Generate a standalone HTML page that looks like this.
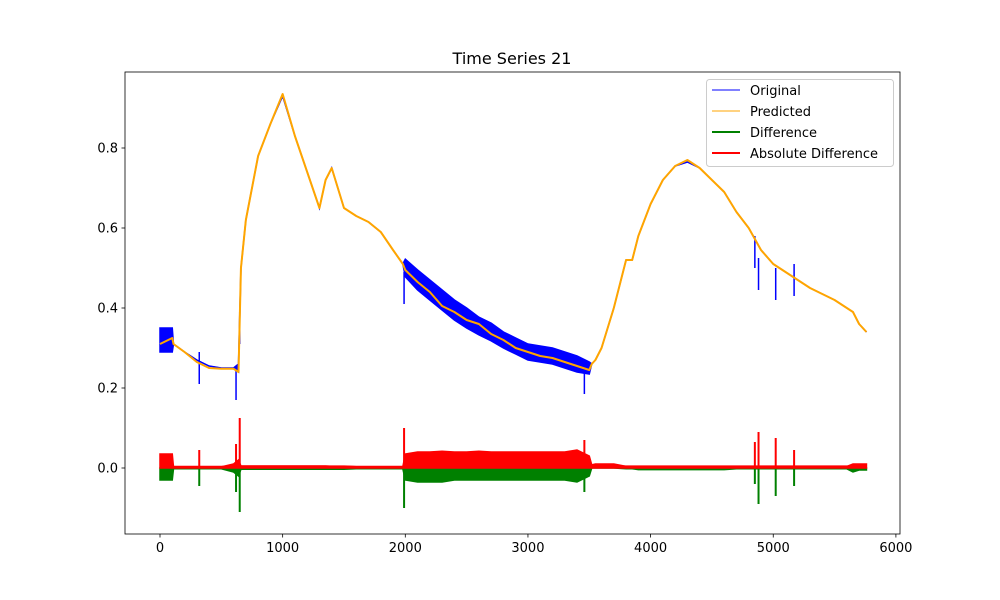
<!DOCTYPE html>
<html><head><meta charset="utf-8"><style>
body{margin:0;background:#fff;}
svg{display:block;font-family:"DejaVu Sans","Liberation Sans",sans-serif;}
</style></head><body>
<svg id="chart" width="1000" height="600"></svg>
<script>
const xs = [0,100,110,200,300,400,500,600,640,660,700,800,900,1000,1100,1200,1300,1350,1400,1500,1600,1700,1800,1900,1980,2000,2100,2200,2300,2400,2500,2600,2700,2800,2900,3000,3100,3200,3300,3400,3500,3520,3550,3600,3700,3800,3850,3900,4000,4100,4200,4300,4400,4500,4600,4700,4800,4900,5000,5100,5200,5300,5400,5500,5600,5650,5700,5760];
const original = [0.32,0.32,0.31,0.29,0.27,0.255,0.25,0.25,0.25,0.5,0.62,0.78,0.86,0.93,0.83,0.74,0.65,0.72,0.75,0.65,0.63,0.615,0.59,0.545,0.51,0.5,0.47,0.445,0.42,0.395,0.375,0.355,0.34,0.32,0.305,0.29,0.285,0.28,0.27,0.26,0.25,0.26,0.27,0.3,0.4,0.52,0.52,0.58,0.66,0.72,0.755,0.765,0.75,0.72,0.69,0.64,0.6,0.545,0.51,0.49,0.47,0.45,0.435,0.42,0.4,0.39,0.36,0.34];
const predicted = [0.31,0.325,0.31,0.29,0.265,0.25,0.248,0.248,0.24,0.5,0.62,0.78,0.86,0.935,0.83,0.74,0.65,0.72,0.75,0.65,0.63,0.615,0.59,0.545,0.51,0.495,0.465,0.44,0.405,0.39,0.37,0.36,0.335,0.32,0.3,0.29,0.28,0.275,0.265,0.255,0.245,0.26,0.27,0.3,0.4,0.52,0.52,0.58,0.66,0.72,0.755,0.77,0.75,0.72,0.69,0.64,0.6,0.545,0.51,0.49,0.47,0.45,0.435,0.42,0.4,0.39,0.36,0.34];
const spread = [0.03,0.03,0,0,0,0,0,0,0.01,0,0,0,0,0,0,0,0,0,0,0,0,0,0,0,0,0.022,0.025,0.025,0.025,0.025,0.025,0.022,0.022,0.02,0.02,0.02,0.02,0.02,0.02,0.02,0.015,0,0,0,0,0,0,0,0,0,0,0,0,0,0,0,0,0,0,0,0,0,0,0,0,0,0,0];
const absDiff = [0.035,0.035,0.003,0.003,0.003,0.003,0.003,0.01,0.02,0.005,0.005,0.005,0.005,0.005,0.005,0.005,0.005,0.005,0.004,0.004,0.003,0.003,0.003,0.003,0.003,0.035,0.04,0.04,0.042,0.04,0.04,0.042,0.04,0.04,0.04,0.04,0.04,0.04,0.04,0.045,0.03,0.008,0.01,0.01,0.01,0.004,0.004,0.004,0.004,0.004,0.004,0.004,0.004,0.004,0.004,0.004,0.004,0.004,0.004,0.004,0.004,0.004,0.004,0.004,0.004,0.01,0.01,0.01];
const diffNeg = [-0.03,-0.03,-0.002,-0.002,-0.002,-0.002,-0.002,-0.01,-0.02,-0.003,-0.003,-0.003,-0.003,-0.003,-0.003,-0.003,-0.003,-0.003,-0.003,-0.003,-0.002,-0.002,-0.002,-0.002,-0.002,-0.03,-0.035,-0.035,-0.035,-0.03,-0.03,-0.03,-0.03,-0.03,-0.03,-0.03,-0.03,-0.03,-0.03,-0.035,-0.02,0,0,0,0,-0.002,-0.002,-0.004,-0.004,-0.004,-0.004,-0.004,-0.004,-0.004,-0.004,-0.002,-0.002,-0.002,-0.002,-0.002,-0.002,-0.002,-0.002,-0.002,-0.002,-0.01,-0.005,-0.005];
const spikeX = [320,620,650,1990,3460,4850,4880,5020,5170];
const spikeOrigLow = [0.21,0.17,0.31,0.41,0.185,0.5,0.445,0.42,0.43];
const spikeDiff = [-0.045,-0.06,-0.11,-0.1,-0.06,-0.04,-0.09,-0.07,-0.045];
const spikeAbs = [0.045,0.06,0.125,0.1,0.07,0.065,0.09,0.075,0.045];
const xTicks = [0,1000,2000,3000,4000,5000,6000];
const yTicks = [0.0,0.2,0.4,0.6,0.8];

const L=125,R=900,T=72,B=534;
const X=v=>160+v*0.12265;
const Y=v=>468-v*400;
const svg=document.getElementById('chart');
const NS='http://www.w3.org/2000/svg';
function mk(tag,attrs,parent){const e=document.createElementNS(NS,tag);for(const k in attrs)e.setAttribute(k,attrs[k]);(parent||svg).appendChild(e);return e;}
function line(arr,color,w,name){
  const p=mk('polyline',{points:xs.map((x,i)=>X(x)+','+Y(arr[i])).join(' '),fill:'none',stroke:color,'stroke-width':w,'stroke-linejoin':'round'});
  
  
  return p;
}
function band(lo,hi,color,name){
  const pts=xs.map((x,i)=>X(x)+','+Y(hi[i])).concat(xs.map((x,i)=>X(x)+','+Y(lo[i])).reverse());
  const p=mk('polygon',{points:pts.join(' '),fill:color,stroke:color,'stroke-width':1.5});
  
  
}
const t=mk('text',{x:512,y:64,'text-anchor':'middle','font-size':16});t.textContent='Time Series 21';


band(original.map((v,i)=>v-spread[i]),original.map((v,i)=>v+spread[i]),'#0000ff','original-band');
line(original,'#0000ff',1,'original-line');
spikeX.forEach((sx,i)=>{
  const s=mk('line',{x1:X(sx),x2:X(sx),y1:Y(spikeOrigLow[i]),y2:Y(spikeOrigLow[i]+0.08),stroke:'#0000ff','stroke-width':1.5});
  
  
});
line(predicted,'#ffa500',2,'predicted-line');
band(diffNeg,xs.map(()=>0),'#008000','difference-band');
spikeX.forEach((sx,i)=>{
  const s=mk('line',{x1:X(sx),x2:X(sx),y1:Y(0),y2:Y(spikeDiff[i]),stroke:'#008000','stroke-width':2});
  
  
});
band(xs.map(()=>0),absDiff,'#ff0000','abs-difference-band');
line(absDiff.map(v=>Math.min(v,0.004)),'#ff0000',2,'abs-difference-line');
spikeX.forEach((sx,i)=>{
  const s=mk('line',{x1:X(sx),x2:X(sx),y1:Y(0),y2:Y(spikeAbs[i]),stroke:'#ff0000','stroke-width':2});
  
  
});
const fr=mk('rect',{x:L,y:T,width:R-L,height:B-T,fill:'none',stroke:'#000','stroke-width':0.8});


xTicks.forEach(v=>{
  mk('line',{x1:X(v),x2:X(v),y1:B,y2:B+3.5,stroke:'#000','stroke-width':0.8});
  const tx=mk('text',{x:X(v),y:B+18,'text-anchor':'middle','font-size':13});tx.textContent=v;
  
  
});
yTicks.forEach(v=>{
  mk('line',{x1:L,x2:L-3.5,y1:Y(v),y2:Y(v),stroke:'#000','stroke-width':0.8});
  const ty=mk('text',{x:L-7,y:Y(v)+4.5,'text-anchor':'end','font-size':13});ty.textContent=v.toFixed(1);
  
  
});
const lg=mk('g',{});


mk('rect',{x:706.5,y:79.5,width:187,height:87,rx:3,fill:'#fff','fill-opacity':0.8,stroke:'#ccc'},lg);
[['Original','#0000ff',1],['Predicted','#ffa500',1],['Difference','#008000',2],['Absolute Difference','#ff0000',2]].forEach((e,i)=>{
  const y=90+i*21;
  const g=mk('g',{},lg);
  
  
  mk('line',{x1:712,x2:740,y1:y,y2:y,stroke:e[1],'stroke-width':e[2]},g);
  const tt=mk('text',{x:750,y:y+5,'font-size':13},g);tt.textContent=e[0];
});
</script>
</body></html>
